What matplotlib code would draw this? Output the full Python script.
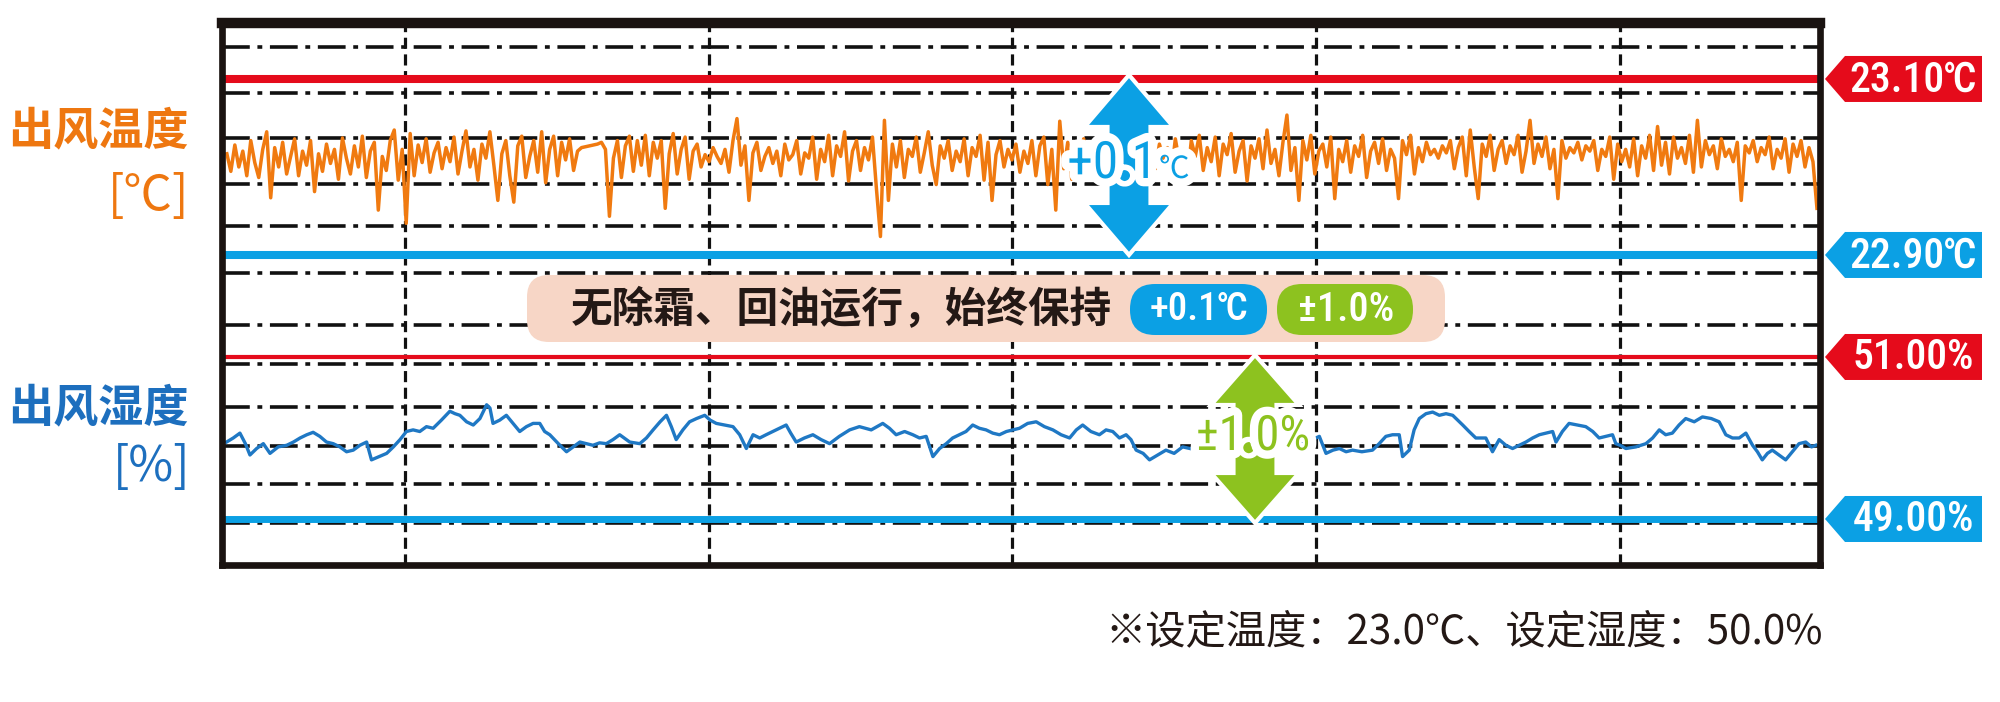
import matplotlib
matplotlib.use('Agg')

import matplotlib.pyplot as plt
import matplotlib.patheffects as pe
from matplotlib.patches import Polygon, FancyBboxPatch
from matplotlib.transforms import IdentityTransform
from matplotlib import font_manager
import numpy as np

plt.rcParams['font.family'] = ['Noto Sans CJK SC', 'DejaVu Sans']
plt.rcParams['lines.scale_dashes'] = False

# a condensed face for the digits, if one is around
_names = {f.name for f in font_manager.fontManager.ttflist}
CONDENSED = 'Liberation Sans'
for cand in ['Roboto Condensed', 'Asap Condensed', 'Archivo Narrow', 'Liberation Sans Narrow']:
    if cand in _names:
        CONDENSED = cand
        break
COND_FAM = [CONDENSED, 'Noto Sans CJK SC']

# ---- data ----
temp_upper, temp_lower = 23.10, 22.90
hum_upper, hum_lower = 51.00, 49.00
temp_tags = ['23.10℃', '22.90℃']
hum_tags = ['51.00%', '49.00%']
grid_hours = [1, 2, 3, 4, 5]
x_range = (0.398, 5.658)
temp_start, temp_end = 0.414, 5.648

temp_values = [
    23.015, 22.995, 23.025, 23.000, 23.018, 22.990, 23.030, 23.005, 22.988, 23.020,
    23.040, 22.965, 23.022, 23.000, 23.028, 22.992, 23.012, 23.032, 22.990, 23.018,
    23.002, 23.030, 22.972, 23.015, 22.995, 23.026, 23.004, 23.020, 22.986, 23.033,
    23.010, 22.992, 23.024, 23.000, 23.035, 22.988, 23.018, 23.028, 22.951, 23.012,
    22.996, 23.030, 23.042, 22.985, 23.020, 22.936, 23.038, 22.990, 23.025, 23.005,
    23.032, 22.994, 23.016, 23.028, 22.998, 23.022, 23.006, 23.034, 22.992, 23.018,
    23.041, 23.000, 23.020, 22.985, 23.026, 23.010, 23.040, 23.002, 22.962, 23.015,
    23.030, 22.990, 22.960, 23.024, 23.035, 22.988, 23.012, 23.030, 22.994, 23.040,
    22.982, 23.020, 23.035, 22.990, 23.028, 23.008, 23.032, 22.996, 23.018, 23.022,
    23.023, 23.024, 23.025, 23.026, 23.028, 23.020, 22.944, 23.010, 23.030, 22.988,
    23.024, 23.035, 22.995, 23.030, 23.002, 23.036, 22.990, 23.028, 23.010, 23.030,
    22.953, 23.015, 23.038, 22.992, 23.020, 23.034, 22.986, 23.018, 23.026, 23.000,
    23.014, 23.006, 23.022, 23.012, 23.004, 23.020, 22.994, 23.030, 23.055, 23.002,
    23.024, 22.962, 23.016, 23.028, 22.996, 23.012, 23.022, 23.004, 23.018, 22.990,
    23.026, 23.008, 23.014, 23.030, 22.992, 23.016, 23.010, 23.034, 22.986, 23.020,
    23.006, 23.036, 22.990, 23.024, 23.012, 23.040, 22.984, 23.018, 23.030, 22.996,
    23.022, 23.008, 23.034, 22.975, 22.921, 23.053, 22.962, 23.026, 23.000, 23.030,
    22.988, 23.020, 23.012, 23.034, 22.994, 23.016, 23.040, 23.002, 22.980, 23.024,
    23.010, 23.030, 22.996, 23.018, 23.006, 23.032, 22.990, 23.022, 23.012, 23.036,
    22.985, 23.028, 22.962, 23.014, 23.030, 23.000, 23.020, 23.008, 23.026, 22.994,
    23.018, 23.004, 23.030, 22.990, 23.024, 23.034, 22.980, 23.020, 22.951, 23.052,
    22.998, 23.028, 22.986, 23.020, 23.006, 23.032, 22.992, 23.018, 23.010, 23.028,
    22.996, 23.022, 23.008, 23.030, 22.990, 23.016, 23.026, 23.002, 23.020, 22.994,
    23.030, 23.008, 23.018, 22.998, 23.026, 23.010, 23.022, 22.992, 23.032, 23.006,
    23.020, 22.986, 23.030, 23.012, 23.036, 22.996, 23.022, 23.006, 23.034, 22.990,
    23.026, 23.014, 23.038, 22.994, 23.018, 23.030, 22.984, 23.024, 23.010, 23.032,
    22.998, 23.042, 23.004, 23.020, 22.990, 23.028, 23.059, 22.996, 23.022, 22.962,
    23.030, 23.008, 23.036, 22.992, 23.018, 23.026, 23.000, 23.034, 22.964, 23.020,
    23.006, 23.030, 22.994, 23.024, 23.012, 23.036, 22.988, 23.018, 23.028, 23.004,
    23.032, 22.996, 23.020, 23.010, 22.964, 23.030, 23.014, 23.036, 22.992, 23.022,
    23.006, 23.028, 23.014, 23.020, 23.010, 23.024, 23.016, 23.030, 22.998, 23.022,
    23.034, 22.990, 23.042, 23.000, 22.964, 23.026, 23.012, 23.036, 22.996, 23.020,
    23.030, 23.004, 23.024, 23.014, 23.036, 22.994, 23.018, 23.053, 23.004, 23.026,
    23.012, 23.034, 22.998, 23.020, 22.964, 23.030, 23.010, 23.022, 23.016, 23.028,
    23.008, 23.024, 23.018, 23.030, 22.996, 23.020, 23.012, 23.034, 22.986, 23.026,
    23.006, 23.020, 23.000, 23.032, 22.990, 23.024, 23.010, 23.036, 22.996, 23.046,
    23.002, 23.028, 22.992, 23.034, 23.010, 23.022, 23.004, 23.036, 22.994, 23.053,
    23.000, 23.030, 23.014, 23.024, 22.998, 23.032, 23.012, 23.020, 23.006, 23.028,
    22.962, 23.024, 23.016, 23.030, 23.006, 23.022, 23.014, 23.034, 22.998, 23.020,
    23.010, 23.032, 22.994, 23.026, 23.012, 23.030, 23.000, 23.022, 23.006, 22.953,
]

hum_hours = [
    0.413, 0.435, 0.457, 0.475, 0.490, 0.512, 0.534, 0.556, 0.583, 0.611,
    0.633, 0.655, 0.677, 0.698, 0.720, 0.742, 0.764, 0.786, 0.808, 0.830,
    0.852, 0.874, 0.890, 0.915, 0.940, 0.962, 0.984, 1.005, 1.027, 1.049,
    1.071, 1.093, 1.120, 1.148, 1.165, 1.181, 1.203, 1.225, 1.247, 1.269,
    1.280, 1.290, 1.312, 1.334, 1.356, 1.378, 1.400, 1.422, 1.444, 1.460,
    1.477, 1.505, 1.532, 1.554, 1.576, 1.598, 1.619, 1.641, 1.663, 1.685,
    1.707, 1.740, 1.773, 1.795, 1.817, 1.840, 1.861, 1.877, 1.893, 1.915,
    1.937, 1.960, 1.987, 2.005, 2.025, 2.052, 2.080, 2.102, 2.124, 2.146,
    2.168, 2.189, 2.222, 2.255, 2.270, 2.288, 2.315, 2.343, 2.370, 2.398,
    2.430, 2.464, 2.496, 2.535, 2.573, 2.595, 2.617, 2.645, 2.672, 2.694,
    2.716, 2.738, 2.760, 2.782, 2.803, 2.825, 2.847, 2.869, 2.891, 2.913,
    2.935, 2.957, 2.980, 3.001, 3.023, 3.050, 3.078, 3.105, 3.133, 3.160,
    3.188, 3.210, 3.231, 3.258, 3.286, 3.308, 3.330, 3.352, 3.374, 3.390,
    3.407, 3.430, 3.451, 3.478, 3.505, 3.532, 3.560, 3.620, 3.700, 3.780,
    3.860, 3.940, 4.010, 4.032, 4.055, 4.076, 4.098, 4.119, 4.150, 4.185,
    4.207, 4.229, 4.251, 4.273, 4.284, 4.306, 4.322, 4.339, 4.361, 4.383,
    4.405, 4.427, 4.449, 4.482, 4.503, 4.525, 4.558, 4.580, 4.602, 4.624,
    4.646, 4.668, 4.690, 4.712, 4.734, 4.756, 4.778, 4.789, 4.810, 4.832,
    4.860, 4.887, 4.910, 4.931, 4.953, 4.975, 4.986, 5.000, 5.019, 5.052,
    5.085, 5.107, 5.129, 5.150, 5.172, 5.194, 5.216, 5.244, 5.271, 5.300,
    5.326, 5.348, 5.370, 5.392, 5.414, 5.436, 5.452, 5.468, 5.485, 5.501,
    5.523, 5.545, 5.567, 5.589, 5.611, 5.630, 5.644,
]
hum_values = [
    49.95, 50.00, 50.06, 49.93, 49.79, 49.87, 49.93, 49.81, 49.89, 49.91,
    49.95, 50.00, 50.04, 50.07, 50.02, 49.95, 49.93, 49.89, 49.83, 49.85,
    49.91, 49.95, 49.73, 49.77, 49.81, 49.89, 49.98, 50.08, 50.10, 50.08,
    50.14, 50.12, 50.22, 50.33, 50.30, 50.28, 50.20, 50.16, 50.24, 50.41,
    50.37, 50.18, 50.22, 50.28, 50.18, 50.08, 50.14, 50.18, 50.18, 50.08,
    50.04, 49.93, 49.83, 49.89, 49.95, 49.93, 49.91, 49.94, 49.93, 49.98,
    50.04, 49.95, 49.93, 50.00, 50.10, 50.20, 50.28, 50.14, 49.98, 50.10,
    50.20, 50.24, 50.28, 50.22, 50.18, 50.16, 50.14, 50.04, 49.87, 50.04,
    50.00, 50.04, 50.10, 50.16, 50.06, 49.95, 50.00, 50.04, 49.98, 49.93,
    50.02, 50.10, 50.14, 50.10, 50.18, 50.12, 50.04, 50.08, 50.04, 50.00,
    50.02, 49.77, 49.87, 49.93, 50.00, 50.04, 50.08, 50.16, 50.12, 50.10,
    50.06, 50.04, 50.08, 50.10, 50.12, 50.18, 50.20, 50.14, 50.10, 50.04,
    50.00, 50.10, 50.16, 50.08, 50.04, 50.10, 50.08, 50.00, 50.04, 49.98,
    49.85, 49.81, 49.73, 49.79, 49.85, 49.81, 49.89, 49.84, 49.88, 49.82,
    49.86, 49.90, 50.02, 49.81, 49.85, 49.87, 49.83, 49.85, 49.83, 49.85,
    49.93, 50.02, 50.04, 50.04, 49.77, 49.85, 50.10, 50.24, 50.30, 50.32,
    50.28, 50.30, 50.28, 50.16, 50.08, 50.00, 50.00, 49.83, 49.98, 49.91,
    49.87, 49.91, 49.95, 50.00, 50.04, 50.06, 50.08, 49.95, 50.08, 50.18,
    50.16, 50.14, 50.08, 50.00, 50.02, 50.04, 49.93, 49.91, 49.87, 49.89,
    49.93, 50.00, 50.10, 50.04, 50.06, 50.16, 50.24, 50.20, 50.26, 50.24,
    50.20, 50.04, 50.00, 50.00, 50.06, 49.91, 49.83, 49.73, 49.81, 49.85,
    49.79, 49.73, 49.83, 49.93, 49.95, 49.89, 49.91,
]

# ---- colours ----
RED = '#E50B1B'
BLUE = '#0BA0E4'
GREEN = '#8DC21F'
ORANGE = '#F07A10'
HUM_BLUE = '#1F78C4'
ORANGE_LBL = '#EE7710'
BLUE_LBL = '#1D6FBE'
PEACH = '#F7D6C6'
INK = '#231815'

W, H = 2000, 702
AX_L, AX_R, AX_T, AX_B = 222, 1820, 23, 565
grid_rows = [47, 93, 138, 184, 226, 273, 325, 364, 407, 446, 484, 523]

fig = plt.figure(figsize=(W / 100, H / 100), dpi=100)
rect = [AX_L / W, 1 - AX_B / H, (AX_R - AX_L) / W, (AX_B - AX_T) / H]

# grid axes (rows measured from top of image)
ax = fig.add_axes(rect)
ax.set_xlim(*x_range)
ax.set_ylim(AX_B, AX_T)
for r in grid_rows:
    ax.axhline(r, color='#111111', lw=2.6, linestyle=(0, (20, 5.5, 3.5, 5.5)))
for h in grid_hours:
    ax.axvline(h, color='#111111', lw=2.3, linestyle=(0, (8, 4)))
ax.axis('off')

# temperature axes
axT = fig.add_axes(rect, sharex=ax)
axT.set_ylim(22.5477, 23.1636)
axT.patch.set_alpha(0)
axT.axis('off')
axT.axhline(temp_upper, color=RED, lw=5.8)
axT.axhline(temp_lower, color=BLUE, lw=5.8)
t_time = np.linspace(temp_start, temp_end, len(temp_values))
axT.plot(t_time, temp_values, color=ORANGE, lw=2.5)

# humidity axes, also holds the frame
axH = fig.add_axes(rect, sharex=ax)
axH.set_ylim(48.432, 55.123)
axH.patch.set_alpha(0)
axH.set_xticks([])
axH.set_yticks([])
axH.axhline(hum_upper, color=RED, lw=3.0)
axH.axhline(hum_lower, color=BLUE, lw=5.0)
axH.plot(hum_hours, hum_values, color=HUM_BLUE, lw=2.4)
for s in axH.spines.values():
    s.set_linewidth(4.8)
    s.set_color('#1a1311')
axH.spines['top'].set_linewidth(7.5)

ident = IdentityTransform()


def ypix(axis, value):
    return axis.transData.transform((x_range[0], value))[1]


# right-hand value tags
def tag(axis, value, label, color):
    y = ypix(axis, value)
    x0, x1, tip, hh = 1825, 1982, 20, 23
    pts = [(x0, y), (x0 + tip, y + hh), (x1, y + hh), (x1, y - hh), (x0 + tip, y - hh)]
    fig.add_artist(Polygon(pts, closed=True, fc=color, ec='none', transform=ident, zorder=5))
    fig.text((x0 + tip + x1) / 2 / W, (y - 1) / H, label, ha='center', va='center',
             fontsize=30, fontweight='medium', color='white', family=COND_FAM, zorder=6)


tag(axT, temp_upper, temp_tags[0], RED)
tag(axT, temp_lower, temp_tags[1], BLUE)
tag(axH, hum_upper, hum_tags[0], RED)
tag(axH, hum_lower, hum_tags[1], BLUE)


# double arrows spanning the tolerance band
def double_arrow(xc, y_top, y_bot, color, head_w=89, head_h=52, shaft_w=43):
    pts = [(xc, y_top), (xc + head_w / 2, y_top - head_h), (xc + shaft_w / 2, y_top - head_h),
           (xc + shaft_w / 2, y_bot + head_h), (xc + head_w / 2, y_bot + head_h), (xc, y_bot),
           (xc - head_w / 2, y_bot + head_h), (xc - shaft_w / 2, y_bot + head_h),
           (xc - shaft_w / 2, y_top - head_h), (xc - head_w / 2, y_top - head_h)]
    fig.add_artist(Polygon(pts, closed=True, fc=color, ec='white', lw=3,
                           joinstyle='miter', transform=ident, zorder=7))


halo = [pe.withStroke(linewidth=12, foreground='white')]

double_arrow(1129, ypix(axT, temp_upper) + 4, ypix(axT, temp_lower), BLUE)
fig.text(1157 / W, 1 - 178 / H, '+0.1', ha='right', va='baseline', fontsize=37,
         color=BLUE, family=COND_FAM, path_effects=halo, zorder=8)
fig.text(1159 / W, 1 - 178 / H, '℃', ha='left', va='baseline', fontsize=22,
         color=BLUE, family=COND_FAM, path_effects=halo, zorder=8)

double_arrow(1255, ypix(axH, hum_upper) + 2, ypix(axH, hum_lower) - 4, GREEN, head_w=88, head_h=50)
fig.text(1253 / W, 1 - 437 / H, '±1.0%', ha='center', va='center', fontsize=35,
         color=GREEN, family=COND_FAM, path_effects=halo, zorder=8)

# banner
fig.add_artist(FancyBboxPatch((527, H - 342), 918, 67, boxstyle='round,pad=0,rounding_size=22',
                              fc=PEACH, ec='none', transform=ident, zorder=5))
fig.text(571 / W, 1 - 310 / H, '无除霜、回油运行，始终保持', ha='left', va='center',
         fontsize=30, fontweight='bold', color=INK, zorder=6)
fig.add_artist(FancyBboxPatch((1130, H - 335), 137, 51, boxstyle='round,pad=0,rounding_size=25',
                              fc=BLUE, ec='none', transform=ident, zorder=6))
fig.text(1199 / W, 1 - 310 / H, '+0.1℃', ha='center', va='center', fontsize=28,
         fontweight='medium', color='white', family=COND_FAM, zorder=7)
fig.add_artist(FancyBboxPatch((1277, H - 335), 136, 51, boxstyle='round,pad=0,rounding_size=25',
                              fc=GREEN, ec='none', transform=ident, zorder=6))
fig.text(1346 / W, 1 - 310 / H, '±1.0%', ha='center', va='center', fontsize=29,
         fontweight='medium', color='white', family=COND_FAM, zorder=7)

# left labels
fig.text(189 / W, 1 - 131 / H, '出风温度', ha='right', va='center', fontsize=32.5,
         fontweight='bold', color=ORANGE_LBL)
fig.text(189 / W, 1 - 196 / H, '[℃]', ha='right', va='center', fontsize=35, color=ORANGE_LBL)
fig.text(189 / W, 1 - 408 / H, '出风湿度', ha='right', va='center', fontsize=32.5,
         fontweight='bold', color=BLUE_LBL)
fig.text(191 / W, 1 - 467 / H, '[%]', ha='right', va='center', fontsize=35, color=BLUE_LBL)

# footnote
fig.text(1823 / W, 1 - 632 / H, '※设定温度：23.0℃、设定湿度：50.0%', ha='right', va='center',
         fontsize=29, color=INK)

fig.savefig('out.png', dpi=100, facecolor='white')
